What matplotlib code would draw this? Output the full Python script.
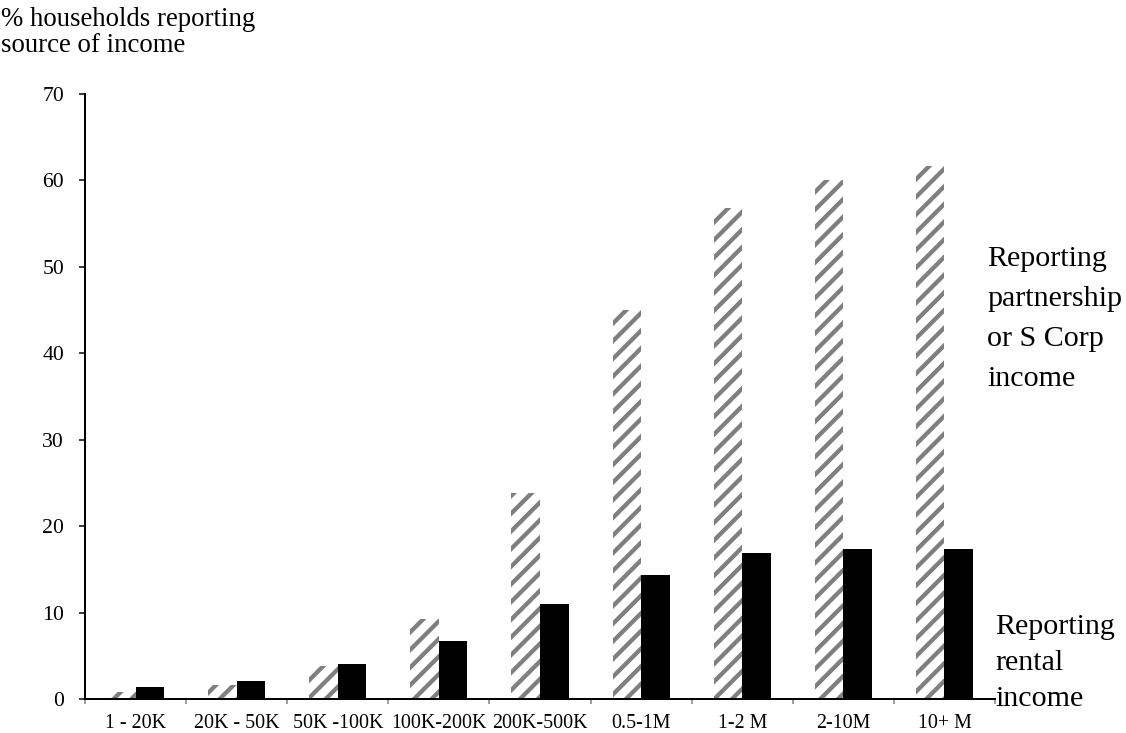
import numpy as np
import matplotlib
matplotlib.use("Agg")
import matplotlib.pyplot as plt

# income brackets and shares of households reporting each income source
brackets = ['1 - 20K', '20K - 50K', '50K -100K', '100K-200K', '200K-500K',
            '0.5-1M', '1-2 M', '2-10M', '10+ M']
partnership = [0.8, 1.6, 3.8, 9.2, 23.8, 45.0, 56.8, 60.1, 61.7]
rental = [1.4, 2.05, 4.1, 6.7, 10.95, 14.4, 16.9, 17.3, 17.3]

W, H = 1126, 733
DPI = 106


def px(v):
    # pixel size -> points at the chosen dpi
    return v * 72.0 / DPI


plt.rcParams['font.family'] = ['Liberation Serif', 'DejaVu Serif']
plt.rcParams['hatch.linewidth'] = px(4.3)

fig = plt.figure(figsize=(W / DPI, H / DPI), dpi=DPI)
ax = fig.add_axes([85 / W, 1 - 699 / H, 910 / W, 605 / H])

x = np.arange(len(brackets))
w = 0.282
ax.bar(x - w / 2, partnership, w, facecolor='white', edgecolor='#7f7f7f',
       hatch='//', linewidth=0)
ax.bar(x + w / 2, rental, w, color='black', linewidth=0)

ax.set_xlim(-0.5, len(brackets) - 0.5)
ax.set_ylim(0, 70)
ax.set_yticks(range(0, 71, 10))

# category boundary ticks, labels centred in between
ax.set_xticks(np.arange(-0.5, len(brackets), 1.0))
ax.set_xticklabels([])
ax.set_xticks(x, minor=True)
ax.set_xticklabels(brackets, minor=True, fontsize=px(20))
ax.tick_params(axis='x', which='major', length=px(5), width=px(1.5), color='#808080')
ax.tick_params(axis='x', which='minor', length=0, pad=px(15))
ax.tick_params(axis='y', length=px(6), width=px(1.5), labelsize=px(21.7), pad=px(15))

for s in ['top', 'right']:
    ax.spines[s].set_visible(False)
ax.spines['left'].set_linewidth(px(2))
ax.spines['bottom'].set_linewidth(px(2))

fig.text(1 / W, 1 - 7 / H, '% households reporting\nsource of income',
         fontsize=px(26.8), va='top', ha='left', linespacing=1.04)
fig.text(987 / W, 1 - 246 / H, 'Reporting\npartnership\nor S Corp\nincome',
         fontsize=px(30), va='top', ha='left', linespacing=1.7)
fig.text(995 / W, 1 - 614 / H, 'Reporting\nrental\nincome',
         fontsize=px(30), va='top', ha='left', linespacing=1.5)

fig.savefig('out.png', dpi=DPI)
